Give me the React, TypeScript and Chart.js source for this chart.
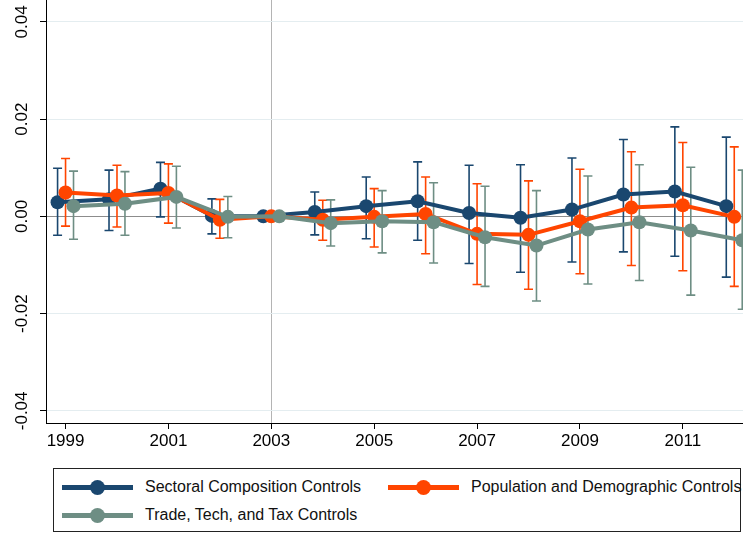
import { useEffect, useRef } from 'react'
import { Chart, registerables } from 'chart.js'

Chart.register(...registerables)

const years = [1999, 2000, 2001, 2002, 2003, 2004, 2005, 2006, 2007, 2008, 2009, 2010, 2011, 2012]

const sectoral = [0.0029, 0.0035, 0.0057, 0.0001, 0, 0.0009, 0.0021, 0.0031, 0.0007, -0.0003, 0.0014, 0.0045, 0.0051, 0.0021]
const sectoralHi = [0.0099, 0.0095, 0.0111, 0.0036, null, 0.005, 0.0081, 0.0112, 0.0105, 0.0106, 0.012, 0.0158, 0.0184, 0.0163]
const sectoralLo = [-0.0039, -0.0029, -0.0001, -0.0036, null, -0.0038, -0.0046, -0.0049, -0.0097, -0.0115, -0.0094, -0.0073, -0.0082, -0.0125]

const population = [0.0049, 0.0043, 0.0048, -0.0007, 0, -0.0007, -0.0001, 0.0005, -0.0036, -0.0038, -0.001, 0.0018, 0.0023, -0.0001]
const populationHi = [0.0119, 0.0105, 0.0108, 0.0035, null, 0.0033, 0.0057, 0.0081, 0.0067, 0.0073, 0.0097, 0.0133, 0.0152, 0.0143]
const populationLo = [-0.002, -0.0022, -0.0014, -0.0045, null, -0.0049, -0.0063, -0.0077, -0.014, -0.015, -0.0118, -0.0101, -0.0112, -0.0144]

const trade = [0.0021, 0.0026, 0.004, -0.0001, 0, -0.0014, -0.001, -0.0012, -0.0043, -0.006, -0.0027, -0.0012, -0.0029, -0.0049]
const tradeHi = [0.0093, 0.0092, 0.0103, 0.0041, null, 0.0034, 0.0053, 0.0069, 0.0062, 0.0053, 0.0083, 0.0106, 0.0101, 0.0095]
const tradeLo = [-0.0047, -0.0039, -0.0024, -0.0044, null, -0.0061, -0.0075, -0.0096, -0.0144, -0.0174, -0.0139, -0.0132, -0.0162, -0.0191]

const xTickValues = [1999, 2001, 2003, 2005, 2007, 2009, 2011]
const yTickValues = [-0.04, -0.02, 0, 0.02, 0.04]

const NAVY = '#1a476f'
const ORANGE = '#ff4500'
const TEAL = '#6e8e84'
const FONT = "'Liberation Sans', Arial, sans-serif"

const series = [
  { label: 'Sectoral Composition Controls', color: NAVY, offset: -0.155, values: sectoral, hi: sectoralHi, lo: sectoralLo, order: 3 },
  { label: 'Population and Demographic Controls', color: ORANGE, offset: 0, values: population, hi: populationHi, lo: populationLo, order: 2 },
  { label: 'Trade, Tech, and Tax Controls', color: TEAL, offset: 0.155, values: trade, hi: tradeHi, lo: tradeLo, order: 1 },
]

// error bars drawn under the lines
const errorBars = {
  id: 'errorBars',
  beforeDatasetsDraw(chart: Chart) {
    const { ctx, scales } = chart
    const x = scales.x
    const y = scales.y
    ctx.save()
    ctx.lineWidth = 1.6
    series.forEach((s) => {
      ctx.strokeStyle = s.color
      years.forEach((yr, i) => {
        const hi = s.hi[i]
        const lo = s.lo[i]
        if (hi == null || lo == null) return
        const px = x.getPixelForValue(yr + s.offset)
        const top = y.getPixelForValue(hi)
        const bot = y.getPixelForValue(lo)
        ctx.beginPath()
        ctx.moveTo(px, top)
        ctx.lineTo(px, bot)
        ctx.moveTo(px - 4.5, top)
        ctx.lineTo(px + 4.5, top)
        ctx.moveTo(px - 4.5, bot)
        ctx.lineTo(px + 4.5, bot)
        ctx.stroke()
      })
    })
    ctx.restore()
  },
}

// vertical y tick labels, Stata style
const yLabels = {
  id: 'yLabels',
  afterDraw(chart: Chart) {
    const { ctx, scales } = chart
    ctx.save()
    ctx.fillStyle = '#000'
    ctx.font = `17px ${FONT}`
    ctx.textAlign = 'center'
    ctx.textBaseline = 'middle'
    yTickValues.forEach((v) => {
      const py = scales.y.getPixelForValue(v)
      ctx.save()
      ctx.translate(22, py)
      ctx.rotate(-Math.PI / 2)
      ctx.fillText(v.toFixed(2), 0, 0)
      ctx.restore()
    })
    ctx.restore()
  },
}

function EventStudyChart() {
  const chartRef = useRef<HTMLCanvasElement>(null)
  const chartInstance = useRef<Chart | null>(null)

  useEffect(() => {
    if (!chartRef.current) return
    if (chartInstance.current) chartInstance.current.destroy()
    const ctx = chartRef.current.getContext('2d')
    if (!ctx) return

    chartInstance.current = new Chart(ctx, {
      type: 'line',
      data: {
        datasets: series.map((s) => ({
          label: s.label,
          data: years.map((yr, i) => ({ x: yr + s.offset, y: s.values[i] })),
          borderColor: s.color,
          backgroundColor: s.color,
          borderWidth: 4,
          pointRadius: 7,
          pointBorderWidth: 0,
          pointBackgroundColor: s.color,
          tension: 0,
          order: s.order,
        })),
      },
      options: {
        responsive: false,
        animation: false,
        layout: { padding: 0, autoPadding: false },
        plugins: {
          legend: { display: false },
          tooltip: { enabled: false },
        },
        scales: {
          x: {
            type: 'linear',
            min: 1998.62,
            max: 2012.17,
            afterBuildTicks: (scale) => {
              scale.ticks = xTickValues.map((v) => ({ value: v }))
            },
            afterFit: (scale) => {
              scale.height = 37
            },
            border: { display: true, color: '#000', width: 1 },
            grid: {
              color: (c) => (c.tick && c.tick.value === 2003 ? '#b4b4b4' : 'rgba(0,0,0,0)'),
              tickColor: '#000',
              tickLength: 6,
              lineWidth: 1,
            },
            ticks: {
              color: '#000',
              padding: 2,
              maxRotation: 0,
              font: { family: FONT, size: 17 },
              callback: (v) => String(v),
            },
          },
          y: {
            min: -0.0425,
            max: 0.0445,
            afterBuildTicks: (scale) => {
              scale.ticks = yTickValues.map((v) => ({ value: v }))
            },
            afterFit: (scale) => {
              scale.width = 46
            },
            border: { display: true, color: '#000', width: 1 },
            grid: {
              color: (c) => (c.tick && c.tick.value === 0 ? '#8c8c8c' : '#e4edf0'),
              tickColor: '#000',
              tickLength: 6,
              lineWidth: 1,
            },
            ticks: { display: false },
          },
        },
      },
      plugins: [errorBars, yLabels],
    })

    return () => {
      if (chartInstance.current) {
        chartInstance.current.destroy()
        chartInstance.current = null
      }
    }
  }, [])

  return <canvas ref={chartRef} width={743} height={460} style={{ position: 'absolute', left: 0, top: 0 }} />
}

function LegendItem({ label, color, left, top }: { label: string; color: string; left: number; top: number }) {
  return (
    <div style={{ position: 'absolute', left, top: top - 12, height: 24, width: 420 }}>
      <div style={{ position: 'absolute', left: 0, top: 10, width: 71, height: 4.5, background: color }} />
      <div
        style={{ position: 'absolute', left: 28, top: 4.5, width: 15, height: 15, borderRadius: '50%', background: color }}
      />
      <div
        style={{
          position: 'absolute',
          left: 83,
          top: 0,
          lineHeight: '24px',
          fontSize: 16,
          fontFamily: FONT,
          color: '#111',
          whiteSpace: 'nowrap',
        }}
      >
        {label}
      </div>
    </div>
  )
}

export default function App() {
  return (
    <div style={{ position: 'fixed', left: 0, top: 0, width: 743, height: 534, background: '#fff', overflow: 'hidden' }}>
      <EventStudyChart />
      <div
        style={{
          position: 'absolute',
          left: 53,
          top: 468,
          width: 686,
          height: 62,
          border: '1px solid #222',
        }}
      />
      <LegendItem label={series[0].label} color={NAVY} left={62} top={487} />
      <LegendItem label={series[1].label} color={ORANGE} left={388} top={487} />
      <LegendItem label={series[2].label} color={TEAL} left={62} top={515} />
    </div>
  )
}
